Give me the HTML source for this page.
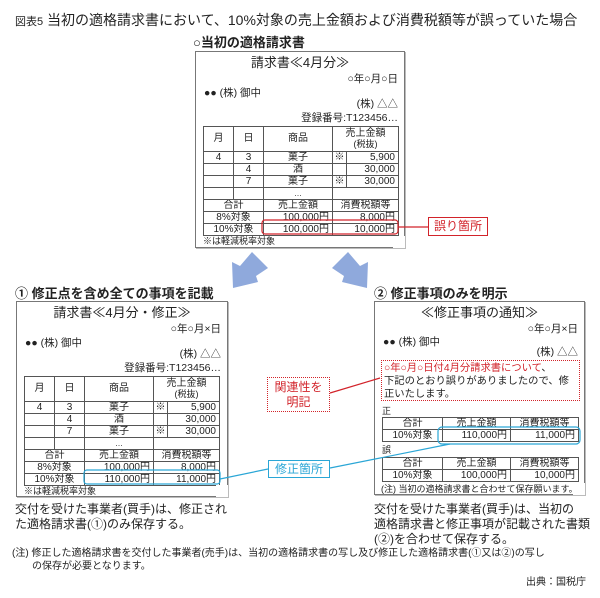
<!DOCTYPE html>
<html><head><meta charset="utf-8"><style>
*{margin:0;padding:0;box-sizing:border-box}
body{width:600px;height:598px;background:#fff;position:relative;overflow:hidden;font-family:"Liberation Sans","Noto Sans CJK JP",sans-serif;color:#222}
.a{position:absolute;white-space:nowrap}
.doc{position:absolute;border:1px solid #777;background:#fff;box-shadow:1px 1px 0 #bbb}
.doc .a{font-size:10.5px;line-height:12px}
table{position:absolute;border-collapse:collapse;table-layout:fixed;font-size:10px}
td{border:1px solid #555;text-align:center;line-height:10px;padding:0;height:12px;max-height:12px;overflow:hidden}
td.r{text-align:right;padding-right:3px}
.h{font-size:13px;font-weight:bold}
.fold{position:absolute;right:-1px;bottom:-1px;width:12px;height:12px;background:#fff}
</style></head><body>
<div class="a" style="left:15px;top:10px;font-size:14px"><span style="font-size:11px">図表5</span> 当初の適格請求書において、10%対象の売上金額および消費税額等が誤っていた場合</div>
<div class="a h" style="left:193px;top:32px">○当初の適格請求書</div>

<!-- top doc -->
<div class="doc" style="left:195px;top:51px;width:210px;height:197px">
<div class="a" style="left:0;width:208px;text-align:center;top:4px;font-size:13px;line-height:14px">請求書≪4月分≫</div>
<div class="a" style="right:6px;top:21px">○年○月○日</div>
<div class="a" style="left:8px;top:35px">●● (株) 御中</div>
<div class="a" style="right:6px;top:46px">(株) △△</div>
<div class="a" style="right:6px;top:60px">登録番号:T123456…</div>
<table style="left:7px;top:74px;width:195px">
<colgroup><col style="width:30px"><col style="width:30px"><col style="width:69px"><col style="width:14px"><col style="width:52px"></colgroup>
<tr><td style="height:25px">月</td><td>日</td><td>商品</td><td colspan="2">売上金額<br><span style="font-size:9px">(税抜)</span></td></tr>
<tr><td>4</td><td>3</td><td>菓子</td><td>※</td><td class="r">5,900</td></tr>
<tr><td></td><td>4</td><td>酒</td><td></td><td class="r">30,000</td></tr>
<tr><td></td><td>7</td><td>菓子</td><td>※</td><td class="r">30,000</td></tr>
<tr><td style="height:10px"></td><td></td><td style="font-size:8px">…</td><td colspan="2"></td></tr>
<tr><td colspan="2">合計</td><td>売上金額</td><td colspan="2">消費税額等</td></tr>
<tr><td colspan="2">8%対象</td><td class="r">100,000円</td><td colspan="2" class="r">8,000円</td></tr>
<tr><td colspan="2">10%対象</td><td class="r">100,000円</td><td colspan="2" class="r">10,000円</td></tr>
</table>
<div class="a" style="left:7px;top:183px;font-size:9px">※は軽減税率対象</div>
<div class="fold"></div>
</div>

<!-- left doc -->
<div class="a h" style="left:15px;top:283px">① 修正点を含め全ての事項を記載</div>
<div class="doc" style="left:16px;top:301px;width:212px;height:196px">
<div class="a" style="left:0;width:210px;text-align:center;top:4px;font-size:13px;line-height:14px">請求書≪4月分・修正≫</div>
<div class="a" style="right:6px;top:21px">○年○月×日</div>
<div class="a" style="left:8px;top:35px">●● (株) 御中</div>
<div class="a" style="right:6px;top:46px">(株) △△</div>
<div class="a" style="right:6px;top:60px">登録番号:T123456…</div>
<table style="left:7px;top:74px;width:195px">
<colgroup><col style="width:30px"><col style="width:30px"><col style="width:69px"><col style="width:14px"><col style="width:52px"></colgroup>
<tr><td style="height:25px">月</td><td>日</td><td>商品</td><td colspan="2">売上金額<br><span style="font-size:9px">(税抜)</span></td></tr>
<tr><td>4</td><td>3</td><td>菓子</td><td>※</td><td class="r">5,900</td></tr>
<tr><td></td><td>4</td><td>酒</td><td></td><td class="r">30,000</td></tr>
<tr><td></td><td>7</td><td>菓子</td><td>※</td><td class="r">30,000</td></tr>
<tr><td style="height:10px"></td><td></td><td style="font-size:8px">…</td><td colspan="2"></td></tr>
<tr><td colspan="2">合計</td><td>売上金額</td><td colspan="2">消費税額等</td></tr>
<tr><td colspan="2">8%対象</td><td class="r">100,000円</td><td colspan="2" class="r">8,000円</td></tr>
<tr><td colspan="2">10%対象</td><td class="r">110,000円</td><td colspan="2" class="r">11,000円</td></tr>
</table>
<div class="a" style="left:7px;top:183px;font-size:9px">※は軽減税率対象</div>
<div class="fold"></div>
</div>
<div class="a" style="left:15px;top:502px;font-size:12px;line-height:15px">交付を受けた事業者(買手)は、修正され<br>た適格請求書(①)のみ保存する。</div>

<!-- right doc -->
<div class="a h" style="left:374px;top:283px">② 修正事項のみを明示</div>
<div class="doc" style="left:374px;top:301px;width:211px;height:194px">
<div class="a" style="left:0;width:209px;text-align:center;top:4px;font-size:13px;line-height:14px">≪修正事項の通知≫</div>
<div class="a" style="right:6px;top:21px">○年○月×日</div>
<div class="a" style="left:8px;top:34px">●● (株) 御中</div>
<div class="a" style="right:6px;top:44px">(株) △△</div>
<div class="a" style="left:6px;top:58px;width:199px;height:41px;border:1.5px dotted #d2232a"></div>
<div class="a" style="left:9px;top:60px;line-height:13px;font-size:10.3px"><span style="color:#d2232a">○年○月○日付4月分請求書について</span>、<br>下記のとおり誤りがありましたので、修<br>正いたします。</div>
<div class="a" style="left:7px;top:103px;font-size:9px">正</div>
<table style="left:7px;top:115px;width:196px">
<colgroup><col style="width:60px"><col style="width:68px"><col style="width:68px"></colgroup>
<tr><td>合計</td><td>売上金額</td><td>消費税額等</td></tr>
<tr><td>10%対象</td><td class="r">110,000円</td><td class="r">11,000円</td></tr>
</table>
<div class="a" style="left:7px;top:142px;font-size:9px">誤</div>
<table style="left:7px;top:155px;width:196px">
<colgroup><col style="width:60px"><col style="width:68px"><col style="width:68px"></colgroup>
<tr><td>合計</td><td>売上金額</td><td>消費税額等</td></tr>
<tr><td>10%対象</td><td class="r">100,000円</td><td class="r">10,000円</td></tr>
</table>
<div class="a" style="left:6px;top:181px;font-size:9px">(注) 当初の適格請求書と合わせて保存願います。</div>
<div class="fold"></div>
</div>
<div class="a" style="left:374px;top:502px;font-size:12px;line-height:15px">交付を受けた事業者(買手)は、当初の<br>適格請求書と修正事項が記載された書類<br>(②)を合わせて保存する。</div>

<!-- overlays -->
<svg class="a" style="left:0;top:0" width="600" height="598">
<g fill="none" stroke-width="1.2">
<rect x="262" y="220" width="136" height="14" rx="3" stroke="#d2232a"/>
<line x1="398" y1="227" x2="428" y2="227" stroke="#d2232a"/>
<line x1="330" y1="393" x2="380" y2="378" stroke="#d2232a"/>
<rect x="84" y="470" width="136" height="14" rx="3" stroke="#2aa6d6"/>
<line x1="220" y1="479" x2="268" y2="469" stroke="#2aa6d6"/>
<rect x="438" y="427" width="142" height="17" rx="4" stroke="#2aa6d6"/>
<line x1="330" y1="468" x2="450" y2="444" stroke="#2aa6d6"/>
</g>
<polygon points="252,252 268,268 256,276 258,282 233,288 232,262 240,266" fill="#8fa9dc"/>
<polygon points="348,252 332,268 344,276 342,282 367,288 368,262 360,266" fill="#8fa9dc"/>
</svg>
<div class="a" style="left:428px;top:217px;width:60px;height:19px;border:1.2px solid #d2232a;color:#d2232a;font-size:12px;text-align:center;line-height:17px;background:#fff">誤り箇所</div>
<div class="a" style="left:267px;top:377px;width:63px;height:35px;border:1.5px dotted #d2232a;color:#d2232a;font-size:12px;text-align:center;line-height:15px;padding-top:2px;background:#fff">関連性を<br>明記</div>
<div class="a" style="left:268px;top:460px;width:62px;height:18px;border:1.2px solid #2aa6d6;color:#2aa6d6;font-size:12px;text-align:center;line-height:16px;background:#fff">修正箇所</div>

<div class="a" style="left:12px;top:547px;font-size:10px;line-height:13px">(注) 修正した適格請求書を交付した事業者(売手)は、当初の適格請求書の写し及び修正した適格請求書(①又は②)の写し<br><span style="padding-left:20px">の保存が必要となります。</span></div>
<div class="a" style="right:14px;top:573px;font-size:10px">出典：国税庁</div>
</body></html>
